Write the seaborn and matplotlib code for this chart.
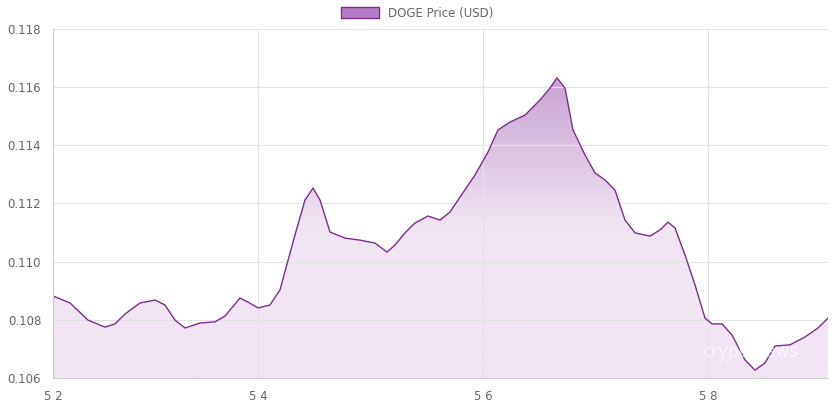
import matplotlib
matplotlib.use("Agg")
import matplotlib.pyplot as plt
import seaborn as sns
import numpy as np
import pandas as pd

px = [53,70,88,105,115,125,140,155,165,175,185,200,215,225,240,248,258,270,280,295,305,313,320,330,345,360,375,387,395,405,415,428,440,450,460,475,488,498,510,525,540,550,557,565,573,585,595,605,615,625,635,650,660,668,675,685,695,705,712,722,732,745,755,765,775,790,805,818,828]
price = [0.10882,0.10858,0.10799,0.10775,0.10786,0.10820,0.10858,0.10868,0.10851,0.10799,0.10772,0.10789,0.10793,0.10813,0.10875,0.10861,0.10841,0.10851,0.10903,0.11092,0.11212,0.11253,0.11212,0.11102,0.11081,0.11074,0.11064,0.11033,0.11057,0.11099,0.11133,0.11157,0.11143,0.11171,0.11222,0.11298,0.11377,0.11453,0.11480,0.11504,0.11556,0.11597,0.11632,0.11597,0.11453,0.11367,0.11305,0.11281,0.11246,0.11143,0.11099,0.11088,0.11109,0.11136,0.11116,0.11023,0.10920,0.10806,0.10786,0.10786,0.10748,0.10662,0.10627,0.10652,0.10710,0.10714,0.10741,0.10772,0.10806]
day = [(p - 33) / 112.5 + 2 for p in px]
tick_pos = [day[0], 4, 6, 8]
tick_labels = ["5 2", "5 4", "5 6", "5 8"]
y_ticks = [0.106, 0.108, 0.110, 0.112, 0.114, 0.116, 0.118]

df = pd.DataFrame({"day": day, "price": price})
sns.set_style("white")
fig = plt.figure(figsize=(8.35, 4.07), dpi=100)
ax = fig.add_axes([53/835, 29/407, 775/835, 349/407])
line_c = "#7b2d8e"
sns.lineplot(data=df, x="day", y="price", ax=ax, color=line_c, lw=1.0, legend=False)
ax.set_xlim(day[0], (828 - 33) / 112.5 + 2)
ax.set_ylim(0.106, 0.118)
poly = ax.fill_between(df["day"], df["price"], 0.106, color="none")
grad = np.linspace(0, 1, 256).reshape(-1, 1)
from matplotlib.colors import LinearSegmentedColormap
cmap = LinearSegmentedColormap.from_list("g", ["#f1e5f3", "#f1e5f3", "#c9a3d3"])
im = ax.imshow(grad, aspect="auto", cmap=cmap, origin="lower",
               extent=[ax.get_xlim()[0], ax.get_xlim()[1], 0.106, 0.1163], zorder=0)
path = poly.get_paths()[0]
im.set_clip_path(path, transform=ax.transData)
ax.set_ylim(0.106, 0.118)
ax.set_xticks(tick_pos, tick_labels)
ax.set_yticks(y_ticks, [f"{v:.3f}" for v in y_ticks])
ax.grid(True, color="#e3e3e3", lw=0.8)
ax.set_axisbelow(True)
for s in ["top", "right"]:
    ax.spines[s].set_visible(False)
for s in ["left", "bottom"]:
    ax.spines[s].set_color("#cccccc")
ax.tick_params(colors="#666666", labelsize=8.5, length=5, color="#cccccc")
ax.set_xlabel(""); ax.set_ylabel("")
from matplotlib.patches import Patch
fig.legend(handles=[Patch(facecolor="#b57cc7", edgecolor=line_c, label="DOGE Price (USD)")],
           loc="upper center", bbox_to_anchor=(0.5, 1.01), frameon=False, fontsize=8.5,
           handlelength=3.2, handleheight=1.1, labelcolor="#666666")
ax.text(0.9, 0.06, "cryptonews", transform=ax.transAxes, ha="center", fontsize=12,
        color="white", alpha=0.6)
fig.savefig("out.png", dpi=100)
